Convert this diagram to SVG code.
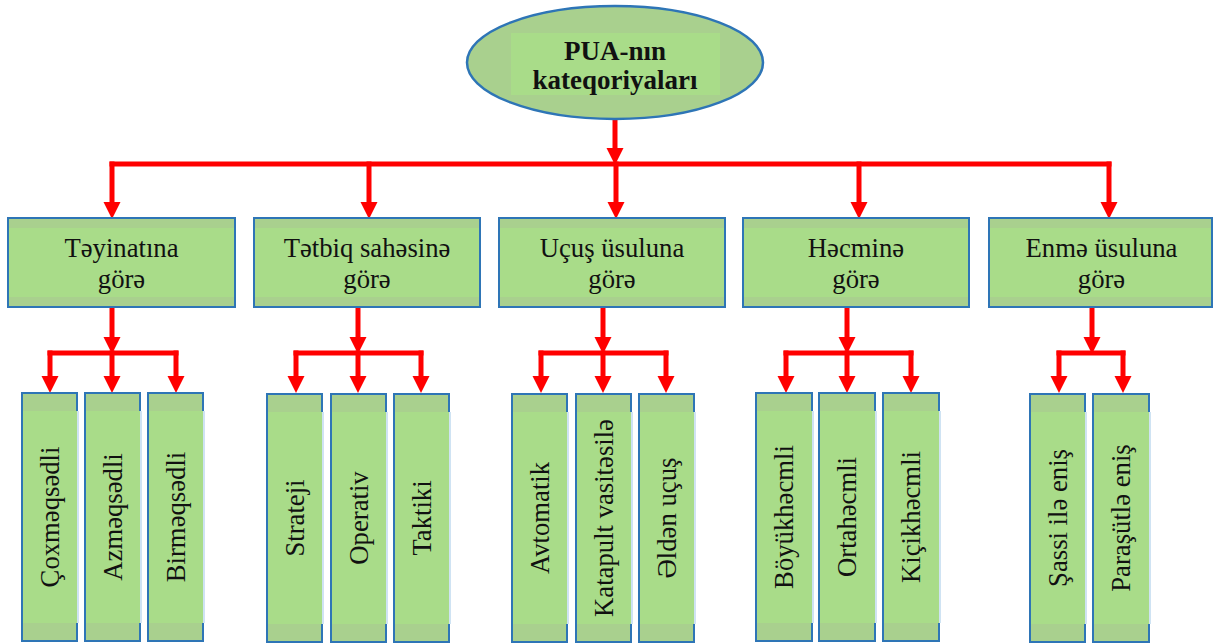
<svg xmlns="http://www.w3.org/2000/svg" width="1213" height="644" viewBox="0 0 1213 644" font-family="Liberation Serif, serif">
<style>
.dk{fill:#a9d08e;stroke:#2e75b6;stroke-width:2}
.lt{fill:#a9dc89}
.edge{fill:#cfe3f3}
.cat{font-size:26.7px;fill:#111;text-anchor:middle}
.ttl{font-size:27px;font-weight:bold;fill:#111;text-anchor:middle}
.ln{stroke:#ff0000;stroke-width:5;fill:none;stroke-linecap:butt}
.ar{marker-end:url(#ah)}
</style>
<defs>
<marker id="ah" markerUnits="userSpaceOnUse" markerWidth="17" markerHeight="18" viewBox="0 0 17 18" refX="6" refY="9" orient="auto">
<path d="M0,0.5 L17,9 L0,17.5 Z" fill="#ff0000"/>
</marker>
<clipPath id="tclip"><rect x="511" y="33" width="209" height="62"/></clipPath>
</defs>
<rect width="1213" height="644" fill="#ffffff"/>

<g id="connectors">
<path class="ln ar" d="M615,119 V154"/>
<path class="ln" d="M109.5,164 H1111.5"/>
<path class="ln ar" d="M112,161.5 V208"/>
<path class="ln ar" d="M369,161.5 V208"/>
<path class="ln ar" d="M616,161.5 V208"/>
<path class="ln ar" d="M859,161.5 V208"/>
<path class="ln ar" d="M1109,161.5 V208"/>

<path class="ln ar" d="M112,307 V343"/>
<path class="ln" d="M47.5,353 H178.5"/>
<path class="ln ar" d="M50,350.5 V382"/>
<path class="ln ar" d="M112,350.5 V382"/>
<path class="ln ar" d="M176,350.5 V382"/>

<path class="ln ar" d="M358,307 V343"/>
<path class="ln" d="M293.5,353 H423.5"/>
<path class="ln ar" d="M296,350.5 V382"/>
<path class="ln ar" d="M358,350.5 V382"/>
<path class="ln ar" d="M421,350.5 V382"/>

<path class="ln ar" d="M603,307 V343"/>
<path class="ln" d="M538.5,353 H668.5"/>
<path class="ln ar" d="M541,350.5 V382"/>
<path class="ln ar" d="M603,350.5 V382"/>
<path class="ln ar" d="M666,350.5 V382"/>

<path class="ln ar" d="M847,307 V343"/>
<path class="ln" d="M783.5,353 H913.5"/>
<path class="ln ar" d="M786,350.5 V382"/>
<path class="ln ar" d="M847,350.5 V382"/>
<path class="ln ar" d="M911,350.5 V382"/>

<path class="ln ar" d="M1092,307 V343"/>
<path class="ln" d="M1056.5,353 H1125.5"/>
<path class="ln ar" d="M1059,350.5 V382"/>
<path class="ln ar" d="M1123,350.5 V382"/>
</g>

<g id="root">
<ellipse cx="615" cy="62.5" rx="148" ry="56.5" fill="#a9d08e" stroke="#2e75b6" stroke-width="2.5"/>
<rect x="511" y="33" width="209" height="62" class="lt"/>
<g clip-path="url(#tclip)">
<text class="ttl" x="615" y="60">PUA-nın</text>
<text class="ttl" x="615" y="89">kateqoriyaları</text>
</g>
</g>

<g id="cat1">
<rect x="8" y="218" width="227" height="89" class="dk"/>
<rect x="9" y="228" width="225" height="69" class="lt"/>
<text class="cat" x="121.5" y="257">Təyinatına</text>
<text class="cat" x="121.5" y="288">görə</text>
</g>
<g id="cat2">
<rect x="254" y="218" width="226" height="89" class="dk"/>
<rect x="255" y="228" width="224" height="69" class="lt"/>
<text class="cat" x="367" y="257">Tətbiq sahəsinə</text>
<text class="cat" x="367" y="288">görə</text>
</g>
<g id="cat3">
<rect x="499" y="218" width="226" height="89" class="dk"/>
<rect x="500" y="228" width="224" height="69" class="lt"/>
<text class="cat" x="612" y="257">Uçuş üsuluna</text>
<text class="cat" x="612" y="288">görə</text>
</g>
<g id="cat4">
<rect x="743" y="218" width="226" height="89" class="dk"/>
<rect x="744" y="228" width="224" height="69" class="lt"/>
<text class="cat" x="856" y="257">Həcminə</text>
<text class="cat" x="856" y="288">görə</text>
</g>
<g id="cat5">
<rect x="989" y="218" width="223" height="89" class="dk"/>
<rect x="990" y="228" width="221" height="69" class="lt"/>
<text class="cat" x="1101.5" y="257">Enmə üsuluna</text>
<text class="cat" x="1101.5" y="288">görə</text>
</g>

<g id="leaf1a">
<rect x="22" y="393" width="55" height="248" class="dk"/>
<rect x="77" y="411" width="2" height="212" class="edge"/>
<rect x="23" y="411" width="54" height="212" class="lt"/>
<text class="cat" transform="translate(58.5,517) rotate(-90)">Çoxməqsədli</text>
</g>
<g id="leaf1b">
<rect x="85" y="393" width="55" height="248" class="dk"/>
<rect x="140" y="411" width="2" height="212" class="edge"/>
<rect x="86" y="411" width="54" height="212" class="lt"/>
<text class="cat" transform="translate(121.5,517) rotate(-90)">Azməqsədli</text>
</g>
<g id="leaf1c">
<rect x="148" y="393" width="55" height="248" class="dk"/>
<rect x="203" y="411" width="2" height="212" class="edge"/>
<rect x="149" y="411" width="54" height="212" class="lt"/>
<text class="cat" transform="translate(184.5,517) rotate(-90)">Birməqsədli</text>
</g>

<g id="leaf2a">
<rect x="267" y="394" width="55" height="248" class="dk"/>
<rect x="322" y="412" width="2" height="212" class="edge"/>
<rect x="268" y="412" width="54" height="212" class="lt"/>
<text class="cat" transform="translate(303.5,518) rotate(-90)">Strateji</text>
</g>
<g id="leaf2b">
<rect x="331" y="394" width="55" height="248" class="dk"/>
<rect x="386" y="412" width="2" height="212" class="edge"/>
<rect x="332" y="412" width="54" height="212" class="lt"/>
<text class="cat" transform="translate(367.5,518) rotate(-90)">Operativ</text>
</g>
<g id="leaf2c">
<rect x="394" y="394" width="55" height="248" class="dk"/>
<rect x="449" y="412" width="2" height="212" class="edge"/>
<rect x="395" y="412" width="54" height="212" class="lt"/>
<text class="cat" transform="translate(430.5,518) rotate(-90)">Taktiki</text>
</g>

<g id="leaf3a">
<rect x="512" y="394" width="55" height="248" class="dk"/>
<rect x="567" y="412" width="2" height="212" class="edge"/>
<rect x="513" y="412" width="54" height="212" class="lt"/>
<text class="cat" transform="translate(548.5,518) rotate(-90)">Avtomatik</text>
</g>
<g id="leaf3b">
<rect x="576" y="394" width="55" height="248" class="dk"/>
<rect x="631" y="412" width="2" height="212" class="edge"/>
<rect x="577" y="412" width="54" height="212" class="lt"/>
<text class="cat" transform="translate(612.5,518) rotate(-90)">Katapult vasitəsilə</text>
</g>
<g id="leaf3c">
<rect x="639" y="394" width="55" height="248" class="dk"/>
<rect x="694" y="412" width="2" height="212" class="edge"/>
<rect x="640" y="412" width="54" height="212" class="lt"/>
<text class="cat" transform="translate(675.5,518) rotate(-90)">Əldən uçuş</text>
</g>

<g id="leaf4a">
<rect x="756" y="393" width="56" height="248" class="dk"/>
<rect x="812" y="411" width="2" height="212" class="edge"/>
<rect x="757" y="411" width="55" height="212" class="lt"/>
<text class="cat" transform="translate(793,517) rotate(-90)">Böyükhəcmli</text>
</g>
<g id="leaf4b">
<rect x="819" y="393" width="56" height="248" class="dk"/>
<rect x="875" y="411" width="2" height="212" class="edge"/>
<rect x="820" y="411" width="55" height="212" class="lt"/>
<text class="cat" transform="translate(856,517) rotate(-90)">Ortahəcmli</text>
</g>
<g id="leaf4c">
<rect x="883" y="393" width="56" height="248" class="dk"/>
<rect x="939" y="411" width="2" height="212" class="edge"/>
<rect x="884" y="411" width="55" height="212" class="lt"/>
<text class="cat" transform="translate(920,517) rotate(-90)">Kiçikhəcmli</text>
</g>

<g id="leaf5a">
<rect x="1030" y="394" width="55" height="248" class="dk"/>
<rect x="1085" y="412" width="2" height="212" class="edge"/>
<rect x="1031" y="412" width="54" height="212" class="lt"/>
<text class="cat" transform="translate(1066.5,518) rotate(-90)">Şassi ilə eniş</text>
</g>
<g id="leaf5b">
<rect x="1093" y="394" width="56" height="248" class="dk"/>
<rect x="1149" y="412" width="2" height="212" class="edge"/>
<rect x="1094" y="412" width="55" height="212" class="lt"/>
<text class="cat" transform="translate(1130,518) rotate(-90)">Paraşütlə eniş</text>
</g>
</svg>
